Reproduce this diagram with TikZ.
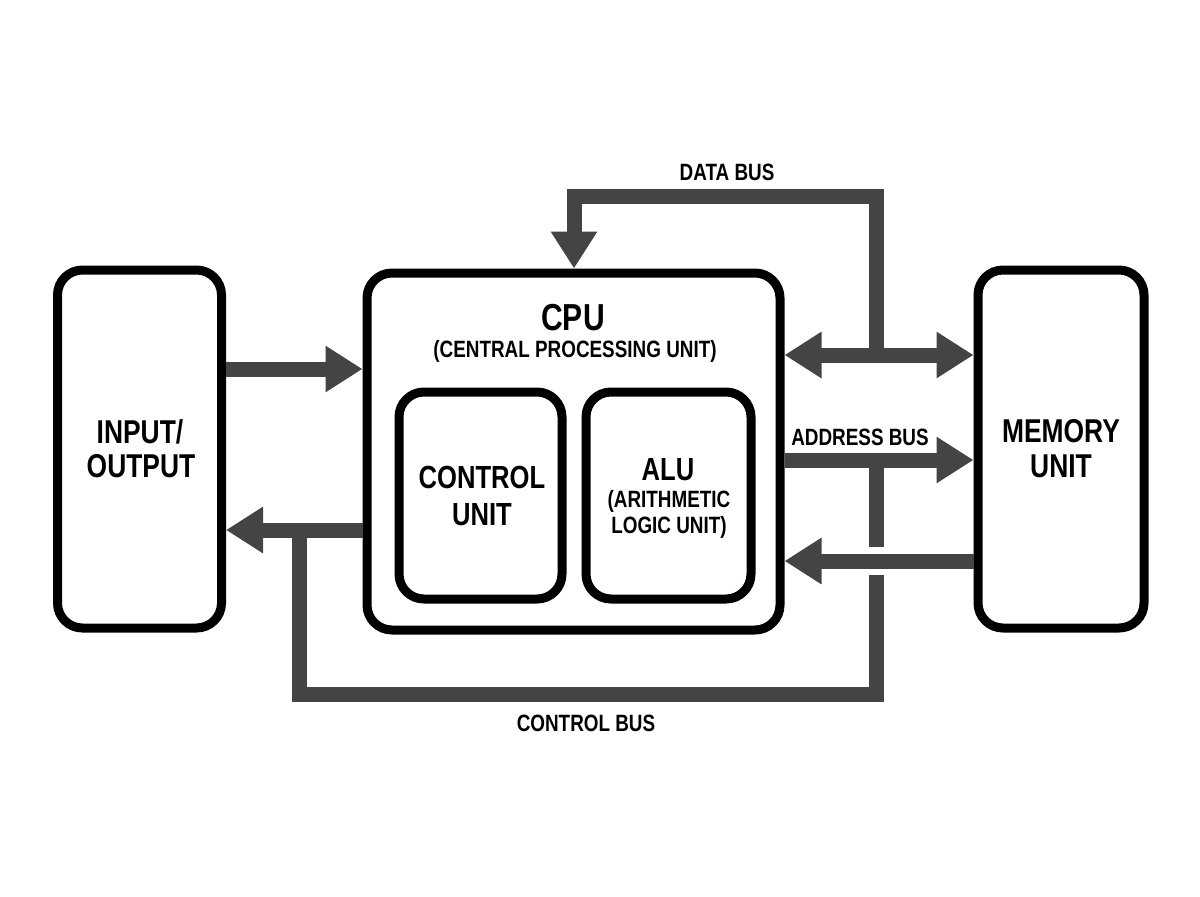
\documentclass[tikz,border=0pt]{standalone}
\usepackage{fontspec}
\newfontfamily\cond[FakeStretch=0.8]{Liberation Sans}
\usetikzlibrary{arrows.meta}
\definecolor{buscol}{RGB}{68,68,68}
\tikzset{
  box/.style={draw=black, line width=4.5pt, rounded corners=12.5pt, fill=white, inner sep=0pt},
  bus/.style={draw=buscol, line width=7.5pt},
  bustip/.tip={Triangle[length=18.5pt,width=22pt]},
  lbig/.style={anchor=base, inner sep=0pt, font=\cond\bfseries\fontsize{16.5}{16.5}\selectfont},
  lcpu/.style={anchor=base, inner sep=0pt, font=\cond\bfseries\fontsize{18.8}{18.8}\selectfont},
  lmid/.style={anchor=base, inner sep=0pt, font=\cond\bfseries\fontsize{16}{16}\selectfont},
  lsmall/.style={anchor=base, inner sep=0pt, font=\cond\bfseries\fontsize{11.8}{11.8}\selectfont}
}
\begin{document}
\begin{tikzpicture}[x=0.5pt,y=-0.5pt]
\useasboundingbox (0,0) rectangle (1200,896);
% boxes
\node[box, minimum width=82pt, minimum height=179pt] (io) at (139.5,449) {};
\node[box, minimum width=206.5pt, minimum height=178.5pt] (cpu) at (573.5,451.5) {};
\node[box, minimum width=81.5pt, minimum height=103.5pt] (cu) at (480.5,495.5) {};
\node[box, minimum width=82.5pt, minimum height=103.5pt] (alu) at (668.5,495.5) {};
\node[box, minimum width=83pt, minimum height=179pt] (mem) at (1061,449) {};
% labels
\node[lbig] (io1) at (140,443) {INPUT/};
\node[lbig] (io2) at (141,477) {OUTPUT};
\node[lbig] (mem1) at (1061,442) {MEMORY};
\node[lbig] (mem2) at (1061,477) {UNIT};
\node[lcpu] (cpu1) at (573,330) {CPU};
\node[lsmall] (cpu2) at (575,357) {(CENTRAL PROCESSING UNIT)};
\node[lmid] (cu1) at (482,488) {CONTROL};
\node[lmid] (cu2) at (482,525) {UNIT};
\node[lmid] (alu1) at (668,480) {ALU};
\node[lsmall] (alu2) at (669,507) {(ARITHMETIC};
\node[lsmall] (alu3) at (669,533) {LOGIC UNIT)};
\node[lsmall] (dbl) at (727,180) {DATA BUS};
\node[lsmall] (abl) at (860,445) {ADDRESS BUS};
\node[lsmall] (cbl) at (586,731) {CONTROL BUS};
% coordinates
\coordinate (dbR) at (876,355);
\coordinate (dbTR) at (876,196);
\coordinate (dbTL) at (574,196);
\coordinate (abJ) at (876,460);
\coordinate (mcY) at (876,561);
\coordinate (ioY) at (299,369);
\coordinate (cbL) at (299,530);
\coordinate (cbBL) at (299,694);
\coordinate (cbBR) at (876,694);
\coordinate (gapLo) at (876,575);
\coordinate (gapHi) at (876,547);
% buses
\draw[bus,-bustip] (dbR) -- (dbTR) -- (dbTL) -- (cpu.north -| dbTL);
\draw[bus,bustip-bustip] (cpu.east |- dbR) -- (mem.west |- dbR);
\draw[bus,-bustip] (cpu.east |- abJ) -- (mem.west |- abJ);
\draw[bus,-bustip] (mem.west |- mcY) -- (cpu.east |- mcY);
\draw[bus,-bustip] (io.east |- ioY) -- (cpu.west |- ioY);
\draw[bus,-bustip] (cpu.west |- cbL) -- (io.east |- cbL);
\draw[bus] (cbL) -- (cbBL) -- (cbBR) -- (gapLo);
\draw[bus] (gapHi) -- (abJ);
\end{tikzpicture}
\end{document}
